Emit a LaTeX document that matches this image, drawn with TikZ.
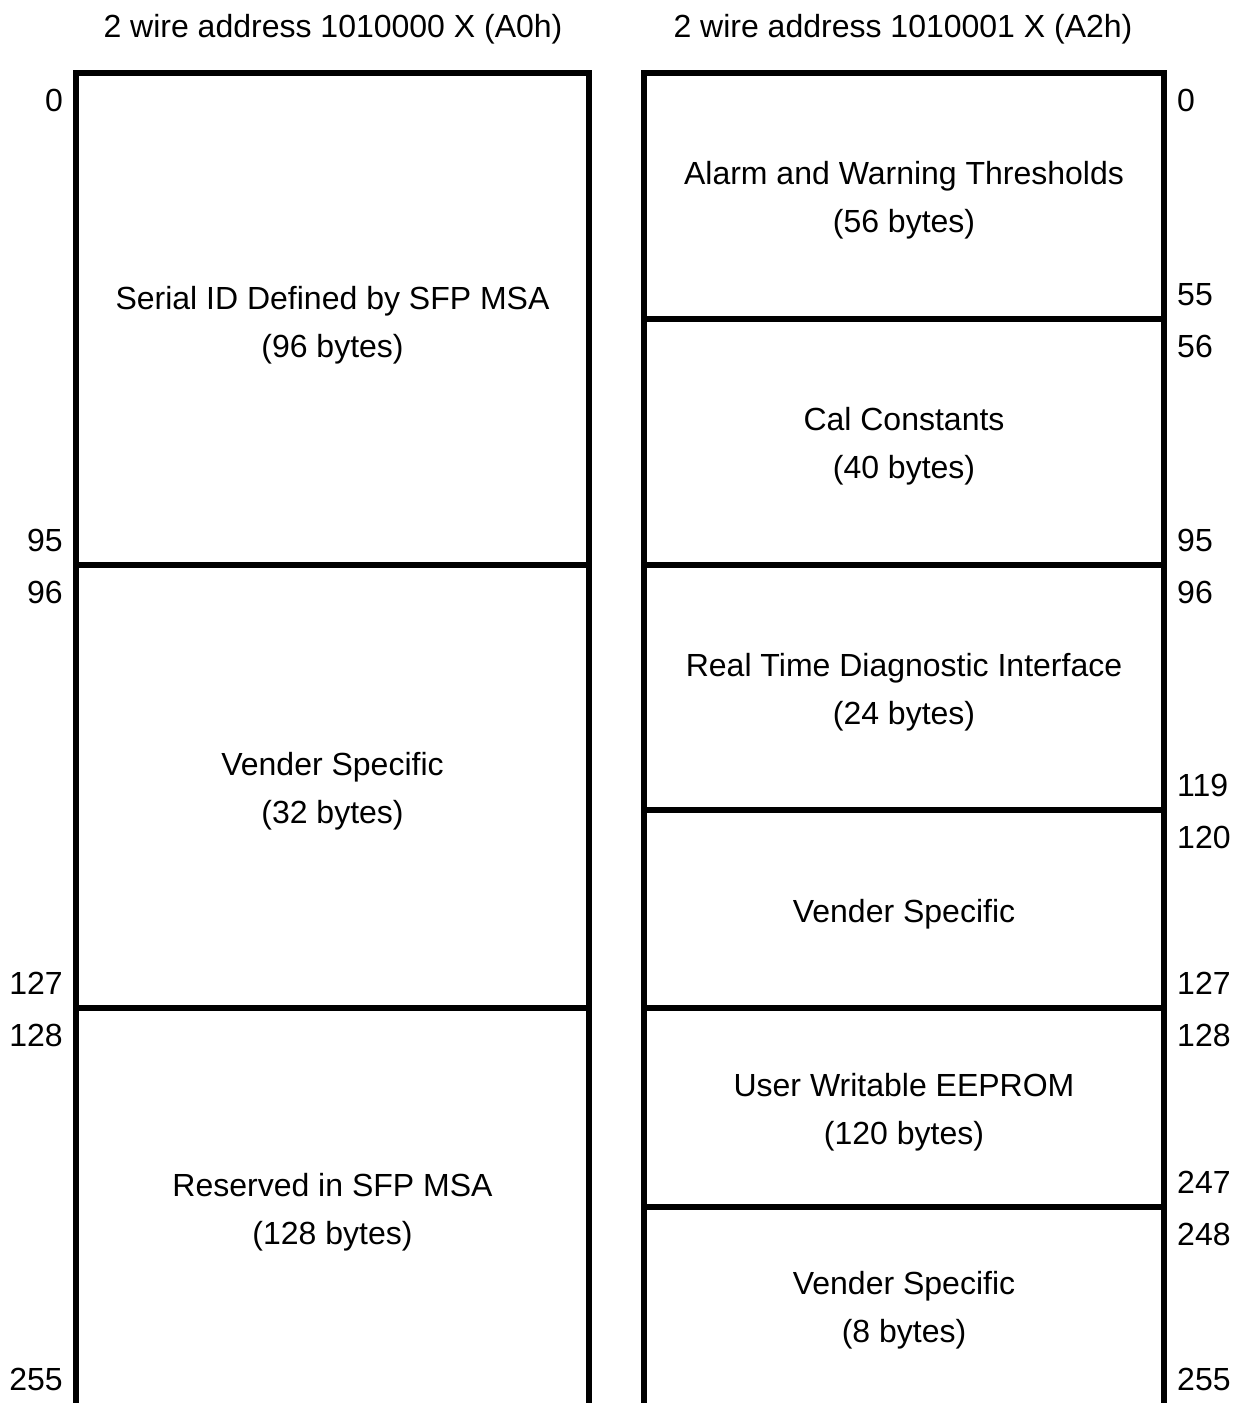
\documentclass[tikz,border=0pt]{standalone}
\usepackage{fontspec}
\setmainfont{Liberation Sans}
\begin{document}
\begin{tikzpicture}[x=1pt,y=-1pt,
  wall/.style={line width=6pt,line join=miter},
  txt/.style={inner sep=0pt,anchor=base,font=\fontsize{32}{38}\selectfont},
  numl/.style={inner sep=0pt,anchor=base east,font=\fontsize{32}{38}\selectfont},
  numr/.style={inner sep=0pt,anchor=base west,font=\fontsize{32}{38}\selectfont}]
\useasboundingbox (0,0) rectangle (1244,1403);
% titles
\node[txt] (t1) at (333,37) {2 wire address 1010000 X (A0h)};
\node[txt] (t2) at (903,37) {2 wire address 1010001 X (A2h)};
% left box
\draw[wall] (76,1410) -- (76,73) -- (589,73) -- (589,1410);
\draw[wall] (76,565) -- (589,565);
\draw[wall] (76,1008) -- (589,1008);
% right box
\draw[wall] (644,1410) -- (644,73) -- (1164,73) -- (1164,1410);
\foreach \yy in {319,565,810,1008,1207}
  \draw[wall] (644,\yy) -- (1164,\yy);
% left texts
\node[txt] (l1a) at (332.5,309) {Serial ID Defined by SFP MSA};
\node[txt] (l1b) at (332.5,357) {(96 bytes)};
\node[txt] (l2a) at (332.5,775) {Vender Specific};
\node[txt] (l2b) at (332.5,823) {(32 bytes)};
\node[txt] (l3a) at (332.5,1196) {Reserved in SFP MSA};
\node[txt] (l3b) at (332.5,1244) {(128 bytes)};
% right texts
\node[txt] (r1a) at (904,184) {Alarm and Warning Thresholds};
\node[txt] (r1b) at (904,232) {(56 bytes)};
\node[txt] (r2a) at (904,430) {Cal Constants};
\node[txt] (r2b) at (904,478) {(40 bytes)};
\node[txt] (r3a) at (904,676) {Real Time Diagnostic Interface};
\node[txt] (r3b) at (904,724) {(24 bytes)};
\node[txt] (r4a) at (904,922) {Vender Specific};
\node[txt] (r5a) at (904,1096) {User Writable EEPROM};
\node[txt] (r5b) at (904,1144) {(120 bytes)};
\node[txt] (r6a) at (904,1294) {Vender Specific};
\node[txt] (r6b) at (904,1342) {(8 bytes)};
% left numbers
\node[numl] (nl0) at (63,111) {0};
\node[numl] (nl95) at (63,551) {95};
\node[numl] (nl96) at (63,603) {96};
\node[numl] (nl127) at (63,994) {127};
\node[numl] (nl128) at (63,1046) {128};
\node[numl] (nl255) at (63,1390) {255};
% right numbers
\node[numr] (nr0) at (1177,111) {0};
\node[numr] (nr55) at (1177,305) {55};
\node[numr] (nr56) at (1177,357) {56};
\node[numr] (nr95) at (1177,551) {95};
\node[numr] (nr96) at (1177,603) {96};
\node[numr] (nr119) at (1177,796) {119};
\node[numr] (nr120) at (1177,848) {120};
\node[numr] (nr127) at (1177,994) {127};
\node[numr] (nr128) at (1177,1046) {128};
\node[numr] (nr247) at (1177,1193) {247};
\node[numr] (nr248) at (1177,1245) {248};
\node[numr] (nr255) at (1177,1390) {255};
\end{tikzpicture}
\end{document}
